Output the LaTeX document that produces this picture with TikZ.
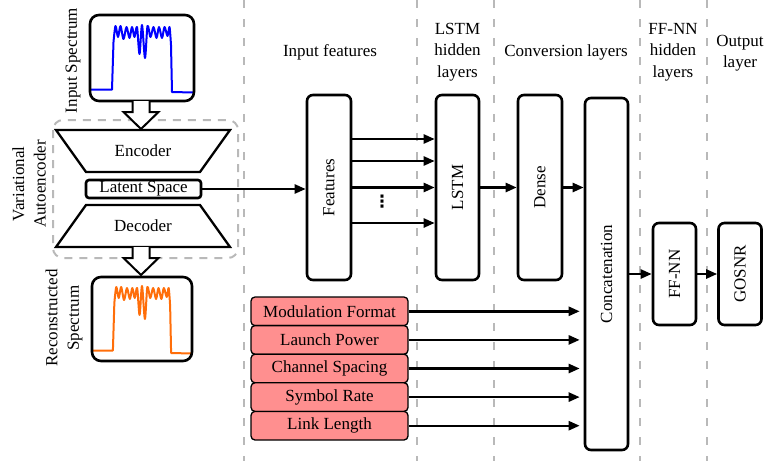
\documentclass[tikz,border=0pt]{standalone}
\usepackage{fontspec}
\IfFontExistsTF{LiberationSerif-Regular.ttf}
  {\setmainfont{LiberationSerif}[Extension=.ttf,UprightFont=*-Regular,
     BoldFont=*-Bold,ItalicFont=*-Italic,BoldItalicFont=*-BoldItalic]}
  {\setmainfont{Liberation Serif}}
\newfontfamily\symfont{DejaVu Sans}
\usetikzlibrary{arrows.meta,calc}

\definecolor{featpink}{RGB}{255,143,143}
\definecolor{sepgray}{RGB}{185,185,185}
\definecolor{specblue}{RGB}{0,0,255}
\definecolor{specorange}{RGB}{255,110,10}

% spectrum trace, x relative to the box centre
\newcommand{\spectrace}{%
  (-51,89.5) -- (-30,89.5) -- plot[smooth,tension=0.5] coordinates {
   (-28.5,42) (-26.5,26) (-24,37) (-21.5,26) (-18.5,39) (-15.5,27)
   (-12.5,38) (-10,27) (-7.5,37) (-5,27) (-2.5,54) (0,25) (3,58)
   (5.5,26) (8.5,37) (11.5,27) (14.5,38) (17,27) (20,38) (22.5,27)
   (25.5,36) (27.5,27) (29,45)} -- (30,92) -- (51,92.5)}

\begin{document}
\begin{tikzpicture}[x=1pt,y=-1pt,
  every node/.style={font=\fontsize{17}{21.5}\selectfont},
  layerbox/.style={draw,line width=2.6pt,rounded corners=6pt,inner sep=0pt},
  featbox/.style={draw,line width=1.3pt,rounded corners=4pt,fill=featpink,
    minimum width=157pt,minimum height=28.6pt,inner sep=0pt},
  specbox/.style={draw,line width=2.6pt,rounded corners=9pt,inner sep=0pt},
  sep/.style={draw=sepgray,line width=2pt,dash pattern=on 8pt off 11pt},
  arr/.style={line width=2.4pt,-{Triangle[length=11pt,width=9pt]}},
  hollow/.style={draw,line width=2pt,fill=white,line join=miter},
  coder/.style={draw,line width=2.3pt,line join=miter},
  header/.style={align=center,inner sep=0pt}]

\useasboundingbox (0,0) rectangle (766,461);

% column separators
\foreach \x in {244,417,494,640,707}
  \draw[sep] (\x,0) -- (\x,461);

% column headings
\node[header] (hin)   at (330,52)   {Input features};
\node[header] (hlstm) at (457.5,52) {LSTM\\hidden\\layers};
\node[header] (hconv) at (566,52)   {Conversion layers};
\node[header] (hff)   at (673,52)   {FF-NN\\hidden\\layers};
\node[header] (hout)  at (740,53)   {Output\\layer};

% variational autoencoder frame
\draw[draw=sepgray,line width=2pt,dash pattern=on 8pt off 7pt,rounded corners=10pt]
  (53,120) rectangle (238,258);

% input spectrum
\begin{scope}[shift={(142,0)}]
  \draw[specblue,line width=2pt,line join=round] \spectrace;
\end{scope}
\node[specbox,minimum width=104pt,minimum height=86pt] (inspec) at (142,58) {};
\node[rotate=90,inner sep=0pt] (inlabel) at (73,60.5) {Input Spectrum};

% reconstructed spectrum
\begin{scope}[shift={(142,261)},xscale=0.97]
  \draw[specorange,line width=2pt,line join=round] \spectrace;
\end{scope}
\node[specbox,minimum width=100pt,minimum height=84pt] (outspec) at (142,319) {};
\node[rotate=90,align=center,inner sep=0pt] (outlabel) at (64,318) {Reconstructed\\Spectrum};

% encoder / latent / decoder
\draw[coder] (56,130) -- (230,130) -- (200,172) -- (86,172) -- cycle;
\node (enc) at (143,151) {Encoder};
\node[draw,line width=2.6pt,rounded corners=3pt,minimum width=115pt,minimum height=18pt,inner sep=0pt]
  (latent) at (143.5,189) {Latent Space};
\draw[coder] (86,205) -- (200,205) -- (230,247) -- (56,247) -- cycle;
\node (dec) at (143,226) {Decoder};
\node[rotate=90,align=center,inner sep=0pt] (vaelabel) at (29,184) {Variational\\Autoencoder};

% block arrows into and out of the autoencoder
\draw[hollow] (132.5,101) -- (132.5,112) -- (123.5,112) -- (141,129)
  -- (158.5,112) -- (149.5,112) -- (149.5,101);
\draw[hollow] (132.5,247) -- (132.5,258) -- (123.5,258) -- (141,275)
  -- (158.5,258) -- (149.5,258) -- (149.5,247);

% network layers
\node[layerbox,minimum width=44pt,minimum height=185pt] (feat)   at (329,187.5)   {\rotatebox{90}{Features}};
\node[layerbox,minimum width=43pt,minimum height=185pt] (lstm)   at (457.5,187.5) {\rotatebox{90}{LSTM}};
\node[layerbox,minimum width=44pt,minimum height=185pt] (dense)  at (540,187.5)   {\rotatebox{90}{Dense}};
\node[layerbox,minimum width=43pt,minimum height=352pt] (concat) at (606.5,274)   {\rotatebox{90}{Concatenation}};
\node[layerbox,minimum width=43pt,minimum height=102pt] (ffnn)   at (674.5,274)   {\rotatebox{90}{FF-NN}};
\node[layerbox,minimum width=43pt,minimum height=102pt] (gosnr)  at (740,274)     {\rotatebox{90}{GOSNR}};

% scalar features
\node[featbox] (mod)  at (329.5,311.3) {Modulation Format};
\node[featbox] (pow)  at (329.5,339.9) {Launch Power};
\node[featbox] (spc)  at (329.5,368.5) {Channel Spacing};
\node[featbox] (rate) at (329.5,397.1) {Symbol Rate};
\node[featbox] (len)  at (329.5,425.7) {Link Length};

% connections
\draw[arr] (latent.east) -- (latent.east -| feat.west);
\foreach \y in {139,161,187.5,223}
  \draw[arr] (feat.east |- 0,\y) -- (lstm.west |- 0,\y);
\node[inner sep=0pt,font=\symfont\bfseries\fontsize{17}{17}\selectfont] (dots) at (382,202) {⋮};
\draw[arr] (lstm.east) -- (dense.west);
\draw[arr] (dense.east) -- (dense.east -| concat.west);
\foreach \n in {mod,pow,spc,rate,len}
  \draw[arr,shorten >=4pt] (\n.east) -- (\n.east -| concat.west);
\draw[arr] (concat.east) -- (ffnn.west);
\draw[arr] (ffnn.east) -- (gosnr.west);

\end{tikzpicture}
\end{document}
